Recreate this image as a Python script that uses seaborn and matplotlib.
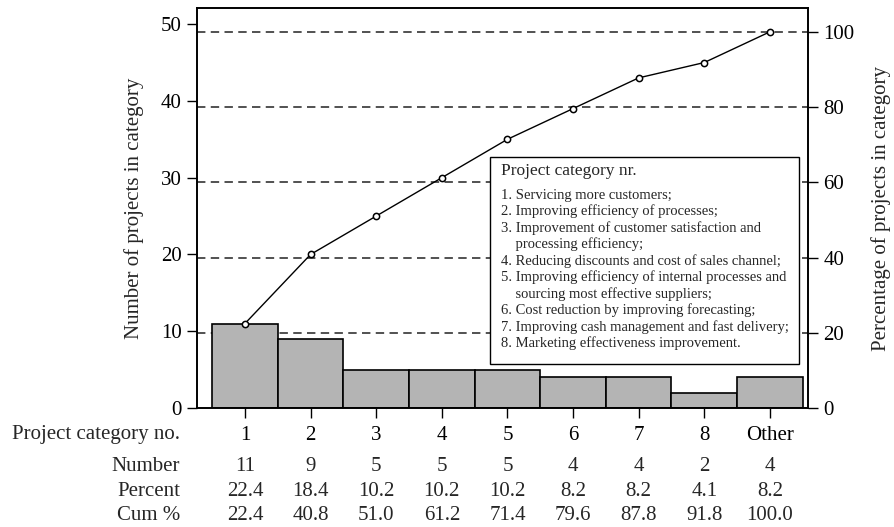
import numpy as np
import pandas as pd
import matplotlib
matplotlib.use("Agg")
import matplotlib.pyplot as plt
import seaborn as sns
from matplotlib.patches import Rectangle
from matplotlib.transforms import blended_transform_factory

# data
categories = ["1", "2", "3", "4", "5", "6", "7", "8", "Other"]
counts = [11, 9, 5, 5, 5, 4, 4, 2, 4]
percent = [22.4, 18.4, 10.2, 10.2, 10.2, 8.2, 8.2, 4.1, 8.2]
cum_percent = [22.4, 40.8, 51.0, 61.2, 71.4, 79.6, 87.8, 91.8, 100.0]
cum_counts = [11, 20, 25, 30, 35, 39, 43, 45, 49]
total = 49
pct_ticks = [0, 20, 40, 60, 80, 100]
count_ticks = [0, 10, 20, 30, 40, 50]

legend_title = "Project category nr."
legend_items = [
    "1. Servicing more customers;",
    "2. Improving efficiency of processes;",
    "3. Improvement of customer satisfaction and",
    "    processing efficiency;",
    "4. Reducing discounts and cost of sales channel;",
    "5. Improving efficiency of internal processes and",
    "    sourcing most effective suppliers;",
    "6. Cost reduction by improving forecasting;",
    "7. Improving cash management and fast delivery;",
    "8. Marketing effectiveness improvement.",
]

sns.set_theme(style="ticks")
plt.rcParams['font.family'] = ['Liberation Serif', 'DejaVu Serif']
plt.rcParams['font.size'] = 15

df = pd.DataFrame({"cat": categories, "count": counts, "cum": cum_counts})

fig = plt.figure(figsize=(8.94, 5.27), dpi=100)
ax = fig.add_axes([0.2204, 0.2258, 0.6834, 0.759])

# dashed reference lines at the percentage ticks
for p in pct_ticks[1:]:
    ax.axhline(p / 100 * total, color="#222222", lw=1.1, ls=(0, (5.5, 3.5)), zorder=0)

sns.barplot(data=df, x="cat", y="count", color="#b4b4b4", saturation=1,
            width=1.0, edgecolor="black", linewidth=1.2, ax=ax, zorder=2)
sns.lineplot(data=df, x="cat", y="cum", color="black", lw=1.0, marker="o",
             markersize=4.5, markerfacecolor="white", markeredgecolor="black",
             markeredgewidth=1.1, sort=False, ax=ax, zorder=4)

ymax = 52.1
ax.set_ylim(0, ymax)
ax.set_xlim(-0.73, 8.58)
ax.set_yticks(count_ticks)
ax.set_ylabel("Number of projects in category", fontsize=15, labelpad=12)
ax.set_xlabel("")
ax.tick_params(axis="x", length=7, width=1, pad=6, labelsize=15, colors="black")
ax.tick_params(axis="y", length=7, width=1, pad=4, labelsize=15, colors="black")
for s in ax.spines.values():
    s.set_color("black")
    s.set_linewidth(1.2)

ax2 = ax.twinx()
ax2.set_ylim(0, ymax * 100 / total)
ax2.set_yticks(pct_ticks)
ax2.set_ylabel("Percentage of projects in category", fontsize=15, labelpad=12)
ax2.tick_params(axis="y", length=7, width=1, pad=4, labelsize=15, colors="black")
for s in ax2.spines.values():
    s.set_color("black")
    s.set_linewidth(1.2)

# legend box with the category descriptions
box = Rectangle((0.4795, 0.11), 0.505, 0.517, transform=ax.transAxes,
                facecolor="white", edgecolor="black", lw=1.0, zorder=5)
ax.add_patch(box)
ax.text(0.497, 0.612, legend_title, transform=ax.transAxes, fontsize=12.5,
        va="top", ha="left", zorder=6)
ax.text(0.497, 0.548, "\n".join(legend_items), transform=ax.transAxes,
        fontsize=10.5, va="top", ha="left", linespacing=1.25, zorder=6)

# table under the axis
trans = blended_transform_factory(ax.transData, fig.transFigure)
rows = [("Number", [str(c) for c in counts]),
        ("Percent", [f"{p:.1f}" for p in percent]),
        ("Cum %", [f"{p:.1f}" for p in cum_percent])]
row_y = [0.1139, 0.0683, 0.0219]
fig.text(0.2013, 0.1746, "Project category no.", ha="right", va="center", fontsize=15)
for (label, vals), y in zip(rows, row_y):
    fig.text(0.2013, y, label, ha="right", va="center", fontsize=15)
    for i, v in enumerate(vals):
        ax.text(i, y, v, transform=trans, ha="center", va="center", fontsize=15)

fig.savefig("out.png", dpi=100)
